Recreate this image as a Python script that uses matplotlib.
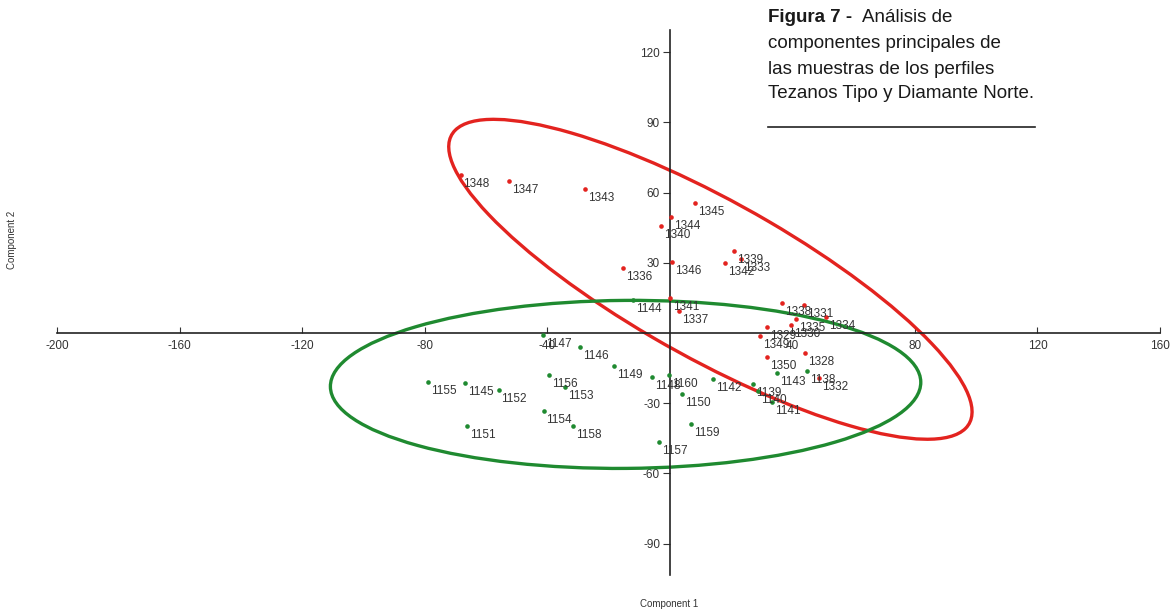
import numpy as np
import matplotlib
matplotlib.use("Agg")
import matplotlib.pyplot as plt
from matplotlib.patches import Ellipse

# Tezanos Tipo samples (red)
red_ids = [1328, 1329, 1330, 1331, 1332, 1333, 1334, 1335, 1336, 1337, 1338, 1339,
           1340, 1341, 1342, 1343, 1344, 1345, 1346, 1347, 1348, 1349, 1350]
red_x = [44.1, 31.7, 39.5, 43.8, 48.7, 23.2, 51.0, 41.2, -15.4, 2.9, 36.6, 20.9,
         -2.9, 0.0, 18.0, -27.8, 0.3, 8.2, 0.7, -52.6, -68.3, 29.4, 31.7]
red_y = [-8.5, 2.6, 3.4, 12.0, -19.2, 31.6, 6.8, 6.0, 27.8, 9.4, 12.8, 35.0,
         45.7, 15.0, 30.0, 61.5, 49.6, 55.6, 30.3, 65.0, 67.5, -1.3, -10.3]

# Diamante Norte samples (green)
green_ids = [1138, 1139, 1140, 1141, 1142, 1143, 1144, 1145, 1146, 1147, 1148, 1149,
             1150, 1151, 1152, 1153, 1154, 1155, 1156, 1157, 1158, 1159, 1160]
green_x = [44.8, 27.1, 28.8, 33.3, 14.0, 35.0, -12.1, -66.7, -29.4, -41.5, -5.9, -18.3,
           3.9, -66.3, -55.9, -34.3, -41.2, -78.8, -39.5, -3.6, -31.7, 6.9, -0.3]
green_y = [-16.2, -21.8, -24.8, -29.5, -19.7, -17.1, 14.1, -21.4, -6.0, -0.9, -18.8, -14.1,
           -26.0, -39.7, -24.4, -23.0, -33.3, -21.0, -18.0, -46.6, -39.7, -38.9, -18.0]

x_ticks = [-200, -160, -120, -80, -40, 40, 80, 120, 160]
y_ticks = [-90, -60, -30, 30, 60, 90, 120]

RED = "#e3231f"
GREEN = "#1f8a30"

plt.rcParams['font.family'] = ['Liberation Sans', 'DejaVu Sans']
plt.rcParams['axes.unicode_minus'] = False


def ellipse_95(xs, ys, color, ax):
    # 95% ellipse from the group covariance (F-based)
    pts = np.column_stack([xs, ys])
    n = len(pts)
    mean = pts.mean(axis=0)
    cov = np.cov(pts, rowvar=False)
    f95 = 3.4668  # F(0.95; 2, 21)
    k = np.sqrt(2 * (n - 1) / (n - 2) * f95)
    vals, vecs = np.linalg.eigh(cov)
    order = vals.argsort()[::-1]
    vals, vecs = vals[order], vecs[:, order]
    angle = np.degrees(np.arctan2(vecs[1, 0], vecs[0, 0]))
    e = Ellipse(mean, 2 * k * np.sqrt(vals[0]), 2 * k * np.sqrt(vals[1]), angle=angle,
                fill=False, edgecolor=color, linewidth=2.4, zorder=2)
    ax.add_patch(e)


fig = plt.figure(figsize=(11.73, 6.14), dpi=100)
ax = fig.add_axes([57 / 1173, 39 / 614, 1103 / 1173, 545 / 614])
ax.set_xlim(-200, 160)
ax.set_ylim(-103.4, 129.5)

for side in ['top', 'right']:
    ax.spines[side].set_visible(False)
ax.spines['left'].set_position(('data', 0))
ax.spines['bottom'].set_position(('data', 0))
for side in ['left', 'bottom']:
    ax.spines[side].set_color('#222222')
    ax.spines[side].set_linewidth(1.2)

ax.set_xticks(x_ticks)
ax.set_yticks(y_ticks)
ax.tick_params(axis='x', direction='in', length=4, labelsize=8.5, colors='#333333', pad=5)
ax.tick_params(axis='y', direction='out', length=5, labelsize=8.5, colors='#333333', pad=2)

ellipse_95(red_x, red_y, RED, ax)
ellipse_95(green_x, green_y, GREEN, ax)

ax.scatter(red_x, red_y, s=11, color=RED, zorder=3, linewidths=0)
ax.scatter(green_x, green_y, s=11, color=GREEN, zorder=3, linewidths=0)

for ids, xs, ys in [(red_ids, red_x, red_y), (green_ids, green_x, green_y)]:
    for i, x, y in zip(ids, xs, ys):
        ax.annotate(str(i), (x, y), xytext=(3, -9), textcoords='offset pixels',
                    ha='left', va='center', fontsize=8.5, color='#333333', zorder=4)

fig.text(669 / 1173, 1 - 604 / 614, "Component 1", ha='center', va='center',
         fontsize=7, color='#333333')
fig.text(12 / 1173, 1 - 240 / 614, "Component 2", ha='center', va='center',
         rotation=90, fontsize=7, color='#333333')

cap_font = ['Liberation Sans Narrow', 'Liberation Sans', 'DejaVu Sans']
tx = 768 / 1173
fig.text(tx, 1 - 18 / 614, "Figura 7 -", ha='left', va='center', fontsize=13.5,
         fontweight='bold', family=cap_font, color='#1a1a1a')
fig.text(tx + 94 / 1173, 1 - 18 / 614, "Análisis de", ha='left', va='center',
         fontsize=13.5, family=cap_font, color='#1a1a1a')
for j, line in enumerate(["componentes principales de",
                          "las muestras de los perfiles",
                          "Tezanos Tipo y Diamante Norte."]):
    fig.text(tx, 1 - (44 + 25 * j) / 614, line, ha='left', va='center', fontsize=13.5,
             family=cap_font, color='#1a1a1a')
fig.add_artist(plt.Line2D([768 / 1173, 1035 / 1173], [1 - 127 / 614, 1 - 127 / 614],
                          color='#222222', linewidth=1.2))

fig.savefig("out.png", dpi=100)
